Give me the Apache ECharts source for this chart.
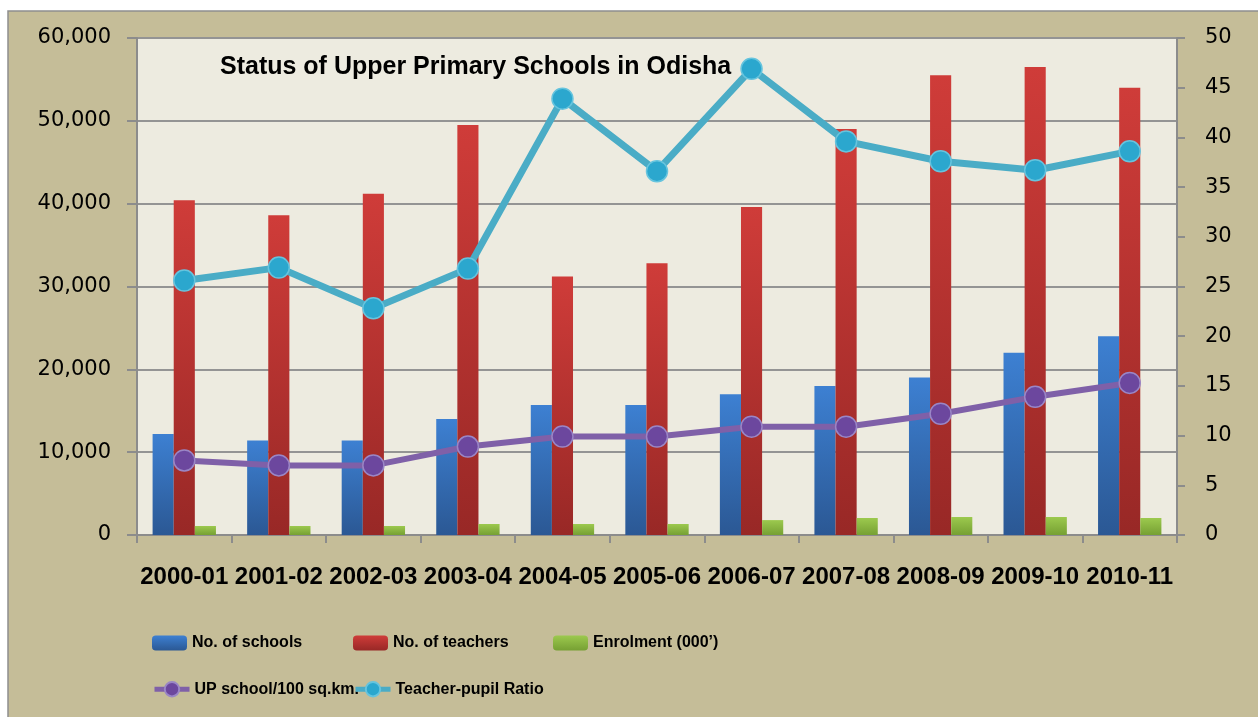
<!DOCTYPE html>
<html>
<head>
<meta charset="utf-8">
<script src="https://cdn.jsdelivr.net/npm/echarts@6/dist/echarts.min.js"></script>
<style>
  html, body { margin: 0; padding: 0; background: #ffffff; }
  #chart { width: 1258px; height: 717px; }
</style>
</head>
<body>
<div id="chart"></div>
<script>
// Upper primary schools in Odisha, 2000-01 to 2010-11
const years = ['2000-01', '2001-02', '2002-03', '2003-04', '2004-05', '2005-06',
               '2006-07', '2007-08', '2008-09', '2009-10', '2010-11'];
const schools = [12200, 11400, 11400, 14000, 15700, 15700, 17000, 18000, 19000, 22000, 24000];
const teachers = [40400, 38600, 41200, 49500, 31200, 32800, 39600, 49000, 55500, 56500, 54000];
const enrolment = [1090, 1090, 1090, 1330, 1330, 1330, 1800, 2050, 2170, 2170, 2050];
const schoolsPer100SqKm = [7.5, 7.0, 7.0, 8.9, 9.9, 9.9, 10.9, 10.9, 12.2, 13.9, 15.3];
const teacherPupilRatio = [25.6, 26.9, 22.8, 26.8, 43.9, 36.6, 46.9, 39.6, 37.6, 36.7, 38.6];

const leftTicks = { min: 0, max: 60000, interval: 10000 };
const rightTicks = { min: 0, max: 50, interval: 5 };

const titleText = 'Status of Upper Primary Schools in Odisha';
const seriesNames = ['No. of schools', 'No. of teachers', 'Enrolment (000\u2019)',
                     'UP school/100 sq.km.', 'Teacher-pupil Ratio'];

function vGrad(top, bottom) {
  return new echarts.graphic.LinearGradient(0, 0, 0, 1, [
    { offset: 0, color: top }, { offset: 1, color: bottom }
  ]);
}

const axisGrey = '#8c8c8c';
const chart = echarts.init(document.getElementById('chart'), null, { renderer: 'canvas' });

const legendText = {
  fontFamily: '"Liberation Sans", Arial, sans-serif',
  fontWeight: 'bold', fontSize: 16, color: '#000000'
};
function legendAt(name, left, top, isLine) {
  const item = {
    data: [name], left: left, top: top, orient: 'horizontal',
    itemWidth: 35, itemHeight: isLine ? 18 : 15, itemGap: 5, padding: 0,
    selectedMode: false, textStyle: legendText
  };
  if (isLine) item.lineStyle = { width: 5 };
  return item;
}

chart.setOption({
  animation: false,
  backgroundColor: '#ffffff',
  graphic: [{
    type: 'rect', z: -10, silent: true,
    shape: { x: 8, y: 11, width: 1262, height: 720 },
    style: { fill: '#c5bd98', stroke: '#8e8e8e', lineWidth: 1.5 }
  }],
  title: {
    text: titleText, left: 220, top: 55, padding: 0,
    textStyle: { fontFamily: '"Liberation Sans", Arial, sans-serif', fontWeight: 'bold',
                 fontSize: 25, color: '#000000' }
  },
  legend: [
    legendAt(seriesNames[0], 152, 635, false),
    legendAt(seriesNames[1], 353, 635, false),
    legendAt(seriesNames[2], 553, 635, false),
    legendAt(seriesNames[3], 152, 681, true),
    legendAt(seriesNames[4], 353, 681, true)
  ],
  grid: {
    left: 137, top: 38, right: 81, bottom: 182,
    show: true, backgroundColor: '#edebe0', borderWidth: 0
  },
  xAxis: {
    type: 'category', data: years,
    axisLine: { lineStyle: { color: axisGrey, width: 2 } },
    axisTick: { show: true, length: 8, lineStyle: { color: axisGrey, width: 2 } },
    axisLabel: { interval: 0, margin: 30, color: '#000000', fontSize: 24, fontWeight: 'bold',
                 fontFamily: '"Liberation Sans", Arial, sans-serif' }
  },
  yAxis: [{
    type: 'value', min: leftTicks.min, max: leftTicks.max, interval: leftTicks.interval,
    axisLine: { show: true, lineStyle: { color: axisGrey, width: 2 } },
    axisTick: { show: true, length: 10, lineStyle: { color: axisGrey, width: 2 } },
    splitLine: { show: true, lineStyle: { color: '#949494', width: 2 } },
    axisLabel: {
      margin: 26, color: '#000000', fontSize: 21, fontFamily: '"DejaVu Sans", sans-serif',
      formatter: v => v.toLocaleString('en-US')
    }
  }, {
    type: 'value', min: rightTicks.min, max: rightTicks.max, interval: rightTicks.interval,
    axisLine: { show: true, lineStyle: { color: axisGrey, width: 2 } },
    axisTick: { show: true, length: 8, lineStyle: { color: axisGrey, width: 2 } },
    splitLine: { show: false },
    axisLabel: { margin: 28, color: '#000000', fontSize: 21, fontFamily: '"DejaVu Sans", sans-serif' }
  }],
  series: [{
    name: seriesNames[0], type: 'bar', data: schools, yAxisIndex: 0,
    barGap: '0%', barCategoryGap: '33%',
    itemStyle: { color: vGrad('#3d80d2', '#2b5894') }
  }, {
    name: seriesNames[1], type: 'bar', data: teachers, yAxisIndex: 0,
    barGap: '0%', barCategoryGap: '33%',
    itemStyle: { color: vGrad('#cf3c39', '#982826') }
  }, {
    name: seriesNames[2], type: 'bar', data: enrolment, yAxisIndex: 0,
    barGap: '0%', barCategoryGap: '33%',
    itemStyle: { color: vGrad('#9cc94e', '#76a033') }
  }, {
    name: seriesNames[3], type: 'line', data: schoolsPer100SqKm, yAxisIndex: 1, z: 5,
    symbol: 'circle', symbolSize: 21,
    lineStyle: { color: '#7f60a8', width: 6 },
    itemStyle: { color: '#6c479e', borderColor: '#9a86c6', borderWidth: 1.5 }
  }, {
    name: seriesNames[4], type: 'line', data: teacherPupilRatio, yAxisIndex: 1, z: 6,
    symbol: 'circle', symbolSize: 21,
    lineStyle: { color: '#4aacc6', width: 7 },
    itemStyle: { color: '#2ba7ce', borderColor: '#66c4de', borderWidth: 1.5 }
  }]
});
</script>
</body>
</html>
